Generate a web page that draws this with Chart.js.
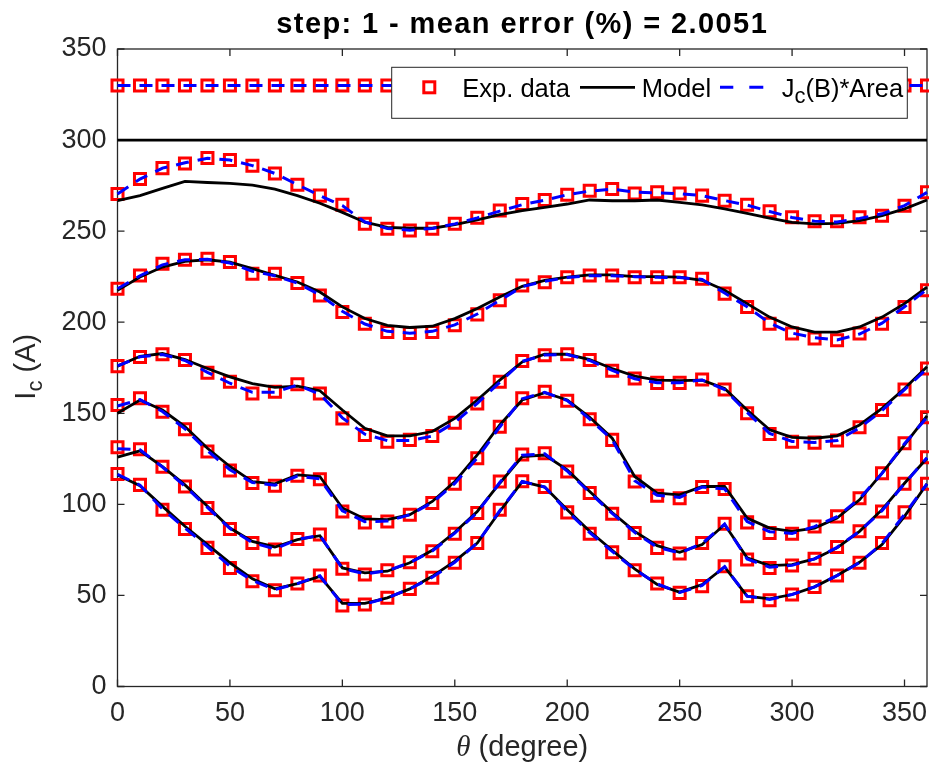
<!DOCTYPE html>
<html>
<head>
<meta charset="utf-8">
<title>Ic vs theta</title>
<script src="https://cdn.jsdelivr.net/npm/chart.js@4.4.1/dist/chart.umd.min.js"></script>
<style>
  html, body { margin: 0; padding: 0; background: #ffffff; }
  #wrap { width: 929px; height: 770px; }
</style>
</head>
<body>
<div id="wrap"><canvas id="ic-chart" width="929" height="770"></canvas></div>
<script>
// angle grid (degree)
const angles = [0, 10, 20, 30, 40, 50, 60, 70, 80, 90, 100, 110, 120, 130, 140, 150, 160, 170, 180,
    190, 200, 210, 220, 230, 240, 250, 260, 270, 280, 290, 300, 310, 320, 330, 340, 350, 360];

const xTicks = [0, 50, 100, 150, 200, 250, 300, 350];
const yTicks = [0, 50, 100, 150, 200, 250, 300, 350];

// measured Ic (A), one curve per field step, top to bottom
const exp1 = [330, 330, 330, 330, 330, 330, 330, 330, 330, 330, 330, 330, 330, 330, 330, 330, 330, 330, 330,
    330, 330, 330, 330, 330, 330, 330, 330, 330, 330, 330, 330, 330, 330, 330, 330, 330, 330];
const exp2 = [270.4, 278.6, 284.6, 287.1, 290.1, 289.0, 285.9, 281.7, 275.5, 269.5, 264.5, 254.0, 251.3, 250.3, 251.3, 254.0, 257.3, 261.3, 264.9,
    267.1, 270.0, 272.2, 273.1, 270.7, 271.3, 270.7, 269.5, 266.7, 264.5, 260.9, 257.6, 255.4, 255.4, 257.6, 258.5, 264.0, 271.3];
const exp3 = [218.4, 225.7, 232.1, 234.3, 234.8, 233.0, 226.6, 226.6, 221.5, 214.7, 205.6, 199.2, 194.6, 194.1, 194.6, 198.3, 204.3, 212.0, 220.2,
    222.0, 224.7, 225.7, 225.7, 224.7, 224.7, 224.7, 223.9, 215.7, 208.3, 199.2, 193.8, 191.0, 190.1, 193.8, 199.2, 208.3, 217.5];
const exp4 = [175.9, 180.9, 182.4, 179.2, 172.2, 167.3, 160.9, 161.8, 166.0, 160.9, 147.2, 138.1, 134.4, 135.4, 137.5, 144.8, 155.4, 167.3, 178.7,
    181.9, 182.4, 179.2, 173.3, 169.1, 166.7, 166.7, 168.6, 163.1, 150.0, 138.6, 134.4, 133.9, 135.0, 142.3, 151.8, 163.1, 174.6];
const exp5 = [154.5, 158.2, 150.9, 141.2, 129.0, 118.6, 111.7, 110.2, 115.7, 113.8, 96.1, 90.1, 90.6, 94.3, 100.7, 111.3, 125.3, 142.6, 158.2,
    161.8, 156.9, 146.7, 135.4, 112.5, 104.7, 103.4, 109.5, 108.4, 90.1, 84.3, 83.9, 87.9, 93.4, 103.4, 117.1, 133.6, 147.8];
const exp6 = [131.4, 130.3, 120.7, 109.8, 98.0, 86.5, 78.8, 75.2, 81.0, 83.4, 64.6, 61.5, 63.8, 68.2, 74.2, 83.9, 95.2, 112.5, 127.4,
    128.1, 118.0, 106.2, 94.9, 84.3, 76.1, 73.0, 78.8, 89.4, 69.7, 65.1, 66.4, 70.1, 76.6, 85.2, 96.1, 111.3, 125.9];
const exp7 = [116.7, 110.7, 97.0, 86.5, 76.1, 65.1, 57.8, 52.9, 56.5, 60.9, 44.5, 45.0, 48.7, 53.6, 59.7, 67.9, 78.8, 97.0, 112.7,
    109.5, 95.6, 83.9, 73.7, 63.8, 56.5, 51.4, 55.1, 66.0, 49.6, 47.4, 50.5, 54.7, 60.9, 67.9, 78.8, 95.6, 111.3];

// model fit
const model1 = [300, 300, 300, 300, 300, 300, 300, 300, 300, 300, 300, 300, 300, 300, 300, 300, 300, 300, 300,
    300, 300, 300, 300, 300, 300, 300, 300, 300, 300, 300, 300, 300, 300, 300, 300, 300, 300];
const model2 = [266.7, 269.5, 273.5, 277.3, 276.7, 276.2, 275.3, 273.1, 269.5, 265.3, 260.3, 254.9, 252.1, 251.6, 251.6, 253.6, 256.2, 259.1, 261.2,
    263.1, 264.9, 267.1, 266.7, 266.7, 267.1, 265.8, 264.4, 262.2, 259.8, 257.2, 254.8, 254.0, 254.3, 255.8, 258.5, 262.2, 267.1];
const model3 = [217.5, 224.8, 230.3, 233.4, 234.3, 233.0, 229.4, 225.7, 222.1, 216.6, 208.4, 202.0, 198.3, 197.1, 197.8, 202.0, 207.5, 213.9, 219.7,
    223.0, 224.7, 226.0, 226.0, 225.0, 225.0, 224.7, 223.0, 217.5, 210.2, 202.8, 197.4, 194.6, 194.6, 197.4, 202.8, 210.2, 219.3];
const model4 = [175.9, 181.3, 182.8, 179.5, 174.6, 170.0, 166.3, 164.2, 164.9, 162.4, 151.8, 141.8, 137.6, 137.6, 140.0, 147.2, 157.3, 168.2, 178.2,
    182.4, 182.4, 179.5, 174.6, 170.4, 168.2, 167.9, 168.2, 163.6, 151.8, 140.9, 136.8, 136.3, 137.6, 143.6, 152.7, 163.6, 175.5];
const model5 = [150.0, 157.3, 151.8, 142.7, 130.8, 120.8, 112.5, 111.3, 116.2, 115.3, 98.0, 92.0, 91.6, 94.3, 101.6, 112.5, 127.1, 143.6, 157.3,
    161.3, 157.3, 147.8, 136.3, 115.3, 106.1, 105.2, 109.8, 109.8, 92.5, 87.0, 85.2, 87.0, 92.5, 102.5, 117.1, 132.7, 148.6];
const model6 = [125.9, 129.4, 120.7, 110.7, 98.9, 87.0, 79.7, 76.6, 80.6, 82.8, 65.1, 62.4, 63.3, 67.9, 74.8, 84.7, 96.1, 111.6, 126.2,
    127.1, 118.9, 107.1, 95.5, 85.2, 77.3, 73.7, 77.9, 88.9, 70.6, 66.4, 66.9, 70.1, 76.1, 85.2, 97.1, 111.6, 125.3];
const model7 = [116.1, 110.2, 98.9, 88.0, 77.9, 67.9, 59.1, 53.6, 56.5, 60.5, 45.6, 45.6, 48.7, 53.6, 60.5, 68.8, 78.8, 96.1, 112.5,
    109.5, 97.1, 85.2, 74.8, 64.6, 56.0, 51.8, 56.0, 65.6, 49.6, 48.1, 50.5, 54.7, 60.9, 68.2, 77.9, 93.4, 111.3];

// Jc(B)*Area
const jc1 = [330, 330, 330, 330, 330, 330, 330, 330, 330, 330, 330, 330, 330, 330, 330, 330, 330, 330, 330,
    330, 330, 330, 330, 330, 330, 330, 330, 330, 330, 330, 330, 330, 330, 330, 330, 330, 330];
const jc2 = [270.4, 278.6, 284.6, 287.5, 290.0, 289.0, 286.0, 281.7, 275.5, 269.5, 264.0, 255.0, 251.5, 250.5, 251.5, 254.0, 257.3, 261.0, 264.5,
    267.0, 270.0, 272.0, 273.0, 271.5, 271.0, 270.5, 269.5, 266.8, 264.3, 260.8, 257.5, 255.5, 255.0, 257.0, 259.5, 264.0, 271.3];
const jc3 = [218.4, 225.5, 231.5, 234.3, 234.5, 232.5, 228.0, 225.5, 221.5, 215.0, 206.0, 199.0, 195.0, 194.0, 195.0, 198.5, 204.5, 212.0, 219.5,
    222.5, 224.5, 225.5, 225.5, 225.0, 224.7, 224.5, 223.5, 216.0, 208.5, 199.5, 194.0, 191.5, 190.3, 193.5, 199.5, 208.5, 218.0];
const jc4 = [176.0, 181.0, 182.3, 179.0, 172.5, 166.5, 161.5, 161.5, 165.5, 160.5, 147.5, 138.5, 135.0, 135.0, 137.5, 145.0, 155.5, 167.0, 178.5,
    182.0, 182.3, 179.0, 173.5, 169.0, 166.8, 166.8, 168.3, 163.0, 150.5, 139.0, 134.5, 134.0, 135.0, 142.0, 151.5, 163.0, 174.5];
const jc5 = [154.0, 157.5, 151.0, 141.5, 129.5, 119.0, 112.0, 110.5, 115.5, 114.0, 96.5, 90.5, 90.8, 94.3, 101.0, 111.5, 125.5, 142.5, 158.0,
    161.5, 157.0, 146.8, 135.5, 113.0, 105.0, 103.8, 109.5, 108.5, 90.5, 85.0, 84.0, 87.8, 93.2, 103.2, 117.0, 133.3, 147.8];
const jc6 = [130.5, 130.0, 120.5, 110.0, 98.3, 86.7, 79.0, 75.5, 80.8, 83.0, 64.8, 61.8, 63.6, 68.0, 74.4, 84.2, 95.6, 112.0, 127.0,
    127.8, 118.3, 106.5, 95.0, 84.6, 76.5, 73.3, 78.5, 89.2, 70.0, 65.5, 66.5, 70.1, 76.4, 85.2, 96.5, 111.4, 125.6];
const jc7 = [116.5, 110.5, 97.5, 87.0, 76.8, 66.0, 58.2, 53.2, 56.5, 60.8, 45.0, 45.2, 48.7, 53.6, 60.0, 68.2, 78.8, 96.5, 112.6,
    109.5, 96.2, 84.5, 74.2, 64.2, 56.3, 51.6, 55.5, 65.8, 49.6, 47.8, 50.5, 54.7, 60.9, 68.0, 78.5, 94.5, 111.3];

const expSeries = [exp1, exp2, exp3, exp4, exp5, exp6, exp7];
const modelSeries = [model1, model2, model3, model4, model5, model6, model7];
const jcSeries = [jc1, jc2, jc3, jc4, jc5, jc6, jc7];

const FONT = '"Liberation Sans", Arial, Helvetica, sans-serif';
const AXIS_COLOR = '#262626';
// plot box in canvas pixels (matlab axes position)
const PLOT_LEFT = 117.5, PLOT_RIGHT = 927, PLOT_TOP = 49, PLOT_BOTTOM = 686.5;

function toPoints(values) {
    return values.map((v, i) => ({ x: angles[i], y: v }));
}

// build datasets: markers at the bottom, model above, Jc*Area dashed on top
const datasets = [];
for (let i = 0; i < expSeries.length; i++) {
    datasets.push({
        label: 'Exp. data',
        data: toPoints(expSeries[i]),
        showLine: false,
        pointStyle: 'rect',
        pointRadius: 7.8,
        pointBorderWidth: 3,
        pointBorderColor: '#ff0000',
        pointBackgroundColor: 'rgba(0,0,0,0)',
        order: 3,
        clip: false
    });
    datasets.push({
        label: 'Model',
        data: toPoints(modelSeries[i]),
        showLine: true,
        borderColor: '#000000',
        borderWidth: 2.8,
        pointRadius: 0,
        tension: 0,
        order: 2,
        clip: false
    });
    datasets.push({
        label: 'Jc(B)*Area',
        data: toPoints(jcSeries[i]),
        showLine: true,
        borderColor: '#0000ff',
        borderWidth: 3,
        borderDash: [13, 9],
        pointRadius: 0,
        tension: 0,
        order: 1,
        clip: false
    });
}

// white page behind everything
const whiteBg = {
    id: 'whiteBg',
    beforeDraw(chart) {
        const ctx = chart.ctx;
        ctx.save();
        ctx.fillStyle = '#ffffff';
        ctx.fillRect(0, 0, chart.width, chart.height);
        ctx.restore();
    }
};

// matlab style box with inward ticks on all four sides, plus x tick labels
const boxTicks = {
    id: 'boxTicks',
    beforeDatasetsDraw(chart) {
        const { ctx, chartArea: a, scales: { x, y } } = chart;
        ctx.save();
        ctx.strokeStyle = AXIS_COLOR;
        ctx.lineWidth = 1.3;
        ctx.strokeRect(a.left, a.top, a.right - a.left, a.bottom - a.top);
        ctx.beginPath();
        xTicks.forEach(v => {
            const px = x.getPixelForValue(v);
            ctx.moveTo(px, a.bottom); ctx.lineTo(px, a.bottom - 7);
            ctx.moveTo(px, a.top); ctx.lineTo(px, a.top + 7);
        });
        yTicks.forEach(v => {
            const py = y.getPixelForValue(v);
            ctx.moveTo(a.left, py); ctx.lineTo(a.left + 7, py);
            ctx.moveTo(a.right, py); ctx.lineTo(a.right - 7, py);
        });
        ctx.stroke();

        ctx.fillStyle = AXIS_COLOR;
        ctx.font = '27px ' + FONT;
        ctx.textAlign = 'center';
        ctx.textBaseline = 'middle';
        xTicks.forEach(v => {
            ctx.fillText(String(v), x.getPixelForValue(v), a.bottom + 27.5);
        });
        ctx.restore();
    }
};

// legend box drawn inside the axes, over the data
const insideLegend = {
    id: 'insideLegend',
    afterDatasetsDraw(chart) {
        const { ctx, chartArea: a } = chart;
        const left = a.left + 274.2, top = a.top + 18.3, w = 515.6, h = 51;
        const midY = top + 20;
        const base = top + 29.4;
        ctx.save();
        ctx.fillStyle = '#ffffff';
        ctx.fillRect(left, top, w, h);
        ctx.strokeStyle = '#262626';
        ctx.lineWidth = 1;
        ctx.strokeRect(left, top, w, h);

        // marker
        ctx.strokeStyle = '#ff0000';
        ctx.lineWidth = 3;
        ctx.strokeRect(left + 37.6 - 5.5, midY - 5.5, 11, 11);

        ctx.fillStyle = '#000000';
        ctx.font = '25.5px ' + FONT;
        ctx.textBaseline = 'alphabetic';
        ctx.fillText('Exp. data', left + 70.6, base);

        // model line
        ctx.strokeStyle = '#000000';
        ctx.lineWidth = 2.8;
        ctx.beginPath();
        ctx.moveTo(left + 188.3, midY); ctx.lineTo(left + 243.3, midY);
        ctx.stroke();
        ctx.fillText('Model', left + 250, base);

        // dashed Jc line
        ctx.strokeStyle = '#0000ff';
        ctx.lineWidth = 3;
        ctx.beginPath();
        ctx.moveTo(left + 328.3, midY); ctx.lineTo(left + 341.6, midY);
        ctx.moveTo(left + 357.6, midY); ctx.lineTo(left + 371.6, midY);
        ctx.stroke();

        let tx = left + 390;
        ctx.fillText('J', tx, base);
        tx += ctx.measureText('J').width;
        ctx.font = '22px ' + FONT;
        ctx.fillText('c', tx, base + 6);
        tx += ctx.measureText('c').width;
        ctx.font = '25.5px ' + FONT;
        ctx.fillText('(B)*Area', tx, base);
        ctx.restore();
    }
};

// title and axis labels (subscript and italic theta need manual text)
const labels = {
    id: 'labels',
    afterDraw(chart) {
        const { ctx, chartArea: a } = chart;
        const cx = (a.left + a.right) / 2;
        ctx.save();
        ctx.fillStyle = '#000000';
        ctx.textBaseline = 'alphabetic';

        // title
        ctx.font = 'bold 29px ' + FONT;
        ctx.letterSpacing = '1.4px';
        const title = 'step: 1 - mean error (%) = 2.0051';
        const tw = ctx.measureText(title).width;
        ctx.fillText(title, cx - tw / 2, 32.5);
        ctx.letterSpacing = '0px';

        ctx.fillStyle = AXIS_COLOR;
        // x label
        ctx.font = 'italic 29px "Liberation Serif", "Times New Roman", serif';
        const thW = ctx.measureText('\u03b8').width;
        ctx.font = '29px ' + FONT;
        const restW = ctx.measureText(' (degree)').width;
        let x0 = cx - (thW + restW) / 2;
        ctx.font = 'italic 29px "Liberation Serif", "Times New Roman", serif';
        ctx.fillText('\u03b8', x0, 756);
        ctx.font = '29px ' + FONT;
        ctx.fillText(' (degree)', x0 + thW, 756);

        // y label, rotated
        ctx.translate(35, (a.top + a.bottom) / 2 - 1);
        ctx.rotate(-Math.PI / 2);
        ctx.font = '29px ' + FONT;
        const iW = ctx.measureText('I').width;
        const aW = ctx.measureText(' (A)').width;
        ctx.font = '22px ' + FONT;
        const cW = ctx.measureText('c').width;
        let y0 = -(iW + cW + aW) / 2;
        ctx.font = '29px ' + FONT;
        ctx.fillText('I', y0, 0);
        ctx.font = '22px ' + FONT;
        ctx.fillText('c', y0 + iW, 7);
        ctx.font = '29px ' + FONT;
        ctx.fillText(' (A)', y0 + iW + cW, 0);
        ctx.restore();
    }
};

const ctx = document.getElementById('ic-chart').getContext('2d');
const chart = new Chart(ctx, {
    type: 'scatter',
    data: { datasets: datasets },
    options: {
        responsive: false,
        animation: false,
        devicePixelRatio: 1,
        layout: {
            // no extra room for marker overflow: the markers may spill over the box like in matlab
            autoPadding: false,
            padding: { left: 0, right: 929 - PLOT_RIGHT, top: PLOT_TOP, bottom: 0 }
        },
        plugins: {
            legend: { display: false },
            tooltip: { enabled: false },
            title: { display: false }
        },
        events: [],
        scales: {
            x: {
                type: 'linear',
                min: 0,
                max: 360,
                afterFit(scale) { scale.height = 770 - PLOT_BOTTOM; },
                grid: { display: false, drawTicks: false },
                border: { display: false },
                ticks: { display: false }
            },
            y: {
                type: 'linear',
                min: 0,
                max: 350,
                afterFit(scale) { scale.width = PLOT_LEFT; },
                afterBuildTicks(scale) { scale.ticks = yTicks.map(v => ({ value: v })); },
                grid: { display: false, drawTicks: false },
                border: { display: false },
                ticks: {
                    padding: 11,
                    color: AXIS_COLOR,
                    font: { family: FONT, size: 27 }
                }
            }
        }
    },
    plugins: [whiteBg, boxTicks, insideLegend, labels]
});
</script>
</body>
</html>
